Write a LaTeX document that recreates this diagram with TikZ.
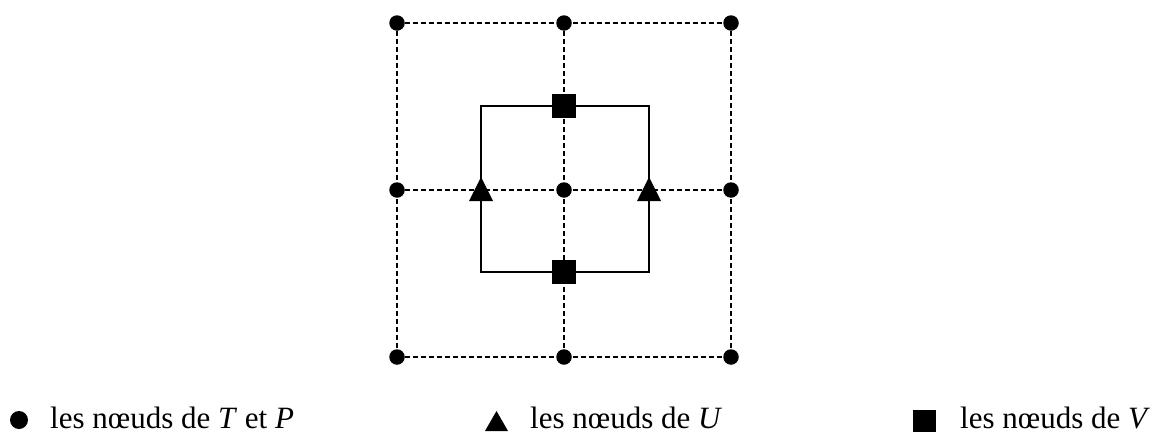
\documentclass[tikz,border=0pt]{standalone}
\usepackage{fontspec}
\setmainfont{Liberation Serif}
\usetikzlibrary{backgrounds}
\tikzset{
  gridline/.style={line width=1.7pt, dash pattern=on 5pt off 3pt},
  boxline/.style={line width=2pt},
  dotnode/.style={circle, fill=black, inner sep=0pt, minimum size=15.5pt},
  sqnode/.style={rectangle, fill=black, inner sep=0pt, minimum size=24pt},
  legtext/.style={anchor=base west, inner sep=0pt, text depth=0pt, font=\fontsize{31}{36}\selectfont},
}
\begin{document}
\begin{tikzpicture}[x=1pt,y=-1pt]
\useasboundingbox (0,0) rectangle (1161,434);
% grid nodes
\node[dotnode] (a1) at (397,23) {};
\node[dotnode] (a2) at (564,23) {};
\node[dotnode] (a3) at (731,23) {};
\node[dotnode] (b1) at (397,190) {};
\node[dotnode] (b2) at (564,190) {};
\node[dotnode] (b3) at (731,190) {};
\node[dotnode] (c1) at (397,357) {};
\node[dotnode] (c2) at (564,357) {};
\node[dotnode] (c3) at (731,357) {};
% V nodes
\node[sqnode] (v1) at (564,106) {};
\node[sqnode] (v2) at (564,272) {};
% U nodes
\coordinate (u1) at (481,190);
\coordinate (u2) at (649,190);
\fill (481,177) -- (493,201) -- (469,201) -- cycle;
\fill (649,177) -- (661,201) -- (637,201) -- cycle;
% inner box corners
\coordinate (k1) at (481,106);
\coordinate (k2) at (649,106);
\coordinate (k3) at (649,272);
\coordinate (k4) at (481,272);
\begin{scope}[on background layer]
\draw[gridline] (a1.center) -- (a3.center);
\draw[gridline] (b1.center) -- (b3.center);
\draw[gridline] (c1.center) -- (c3.center);
\draw[gridline] (a1.center) -- (c1.center);
\draw[gridline] (a2.center) -- (c2.center);
\draw[gridline] (a3.center) -- (c3.center);
\draw[boxline] (k1) -- (v1.center) -- (k2) -- (u2) -- (k3) -- (v2.center) -- (k4) -- (u1) -- cycle;
\end{scope}
% legend
\node[circle, fill=black, inner sep=0pt, minimum size=18pt] (l1) at (19,420) {};
\node[legtext] (t1) at (50,428) {les nœuds de \textit{T} et \textit{P}};
\coordinate (l2) at (496.5,421);
\fill (496.5,411) -- (508,431) -- (485,431) -- cycle;
\node[legtext] (t2) at (530,428) {les nœuds de \textit{U}};
\node[rectangle, fill=black, inner sep=0pt, minimum size=22.5pt] (l3) at (924.5,421) {};
\node[legtext] (t3) at (960,428) {les nœuds de \textit{V}};
\end{tikzpicture}
\end{document}
